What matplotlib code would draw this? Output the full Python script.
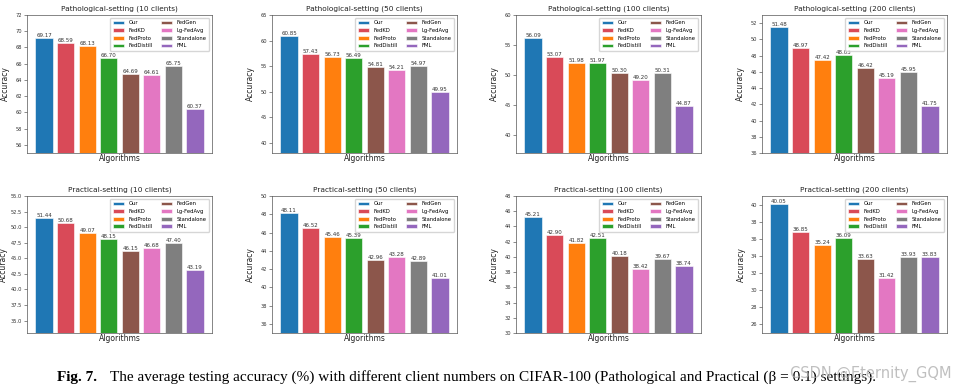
import matplotlib
matplotlib.use("Agg")
import matplotlib.pyplot as plt
import numpy as np

algorithms = ["Our", "FedKD", "FedProto", "FedDistill", "FedGen", "Lg-FedAvg", "Standalone", "FML"]
colors = ["#1f77b4", "#d94a58", "#ff7f0e", "#2ca02c", "#8c564b", "#e377c2", "#7f7f7f", "#9467bd"]

path_10 = [69.17, 68.59, 68.13, 66.70, 64.69, 64.61, 65.75, 60.37]
path_50 = [60.85, 57.43, 56.73, 56.49, 54.81, 54.21, 54.97, 49.95]
path_100 = [56.09, 53.07, 51.98, 51.97, 50.30, 49.20, 50.31, 44.87]
path_200 = [51.48, 48.97, 47.42, 48.03, 46.42, 45.19, 45.95, 41.75]
prac_10 = [51.44, 50.68, 49.07, 48.15, 46.15, 46.68, 47.40, 43.19]
prac_50 = [48.11, 46.52, 45.46, 45.39, 42.96, 43.28, 42.89, 41.01]
prac_100 = [45.21, 42.90, 41.82, 42.51, 40.18, 38.42, 39.67, 38.74]
prac_200 = [40.05, 36.85, 35.24, 36.09, 33.63, 31.42, 33.93, 33.83]

titles = ["Pathological-setting (10 clients)", "Pathological-setting (50 clients)",
          "Pathological-setting (100 clients)", "Pathological-setting (200 clients)",
          "Practical-setting (10 clients)", "Practical-setting (50 clients)",
          "Practical-setting (100 clients)", "Practical-setting (200 clients)"]
series = [path_10, path_50, path_100, path_200, prac_10, prac_50, prac_100, prac_200]
ylims = [(55, 72), (38, 65), (37, 60), (36, 53), (33, 55), (35, 50), (30, 48), (25, 41)]
ysteps = [2, 5, 5, 2, 2.5, 2, 2, 2]

W, H = 954, 388
fig = plt.figure(figsize=(W / 100, H / 100), dpi=100)
lefts = [27, 272, 516, 762]
tops = [15, 196]
bottoms = [153, 333]
aw = 185
ylabel_off = [17, 17, 17, 17, 19, 17, 17, 16]

for i, (vals, title, yl, st) in enumerate(zip(series, titles, ylims, ysteps)):
    r, c = divmod(i, 4)
    ax = fig.add_axes([lefts[c] / W, 1 - bottoms[r] / H, aw / W, (bottoms[r] - tops[r]) / H])
    x = np.arange(len(algorithms))
    bars = ax.bar(x, vals, width=0.8, color=colors, label=algorithms,
                  edgecolor="#ffffff", linewidth=0.4)
    for b, v in zip(bars, vals):
        ax.text(b.get_x() + b.get_width() / 2, v, f"{v:.2f}", ha="center", va="bottom",
                fontsize=4.0, color="#333333")
    ax.set_ylim(*yl)
    start = np.ceil(yl[0] / st) * st
    ticks = np.arange(start, yl[1] + 1e-9, st)
    ax.set_yticks(ticks)
    if st == 2.5:
        ax.set_yticklabels([f"{t:.1f}" for t in ticks])
    else:
        ax.set_yticklabels([f"{int(t)}" for t in ticks])
    ax.set_xticks([])
    ax.tick_params(axis="y", labelsize=3.7, length=2, width=0.4, pad=1.5, colors="#333333")
    for s in ax.spines.values():
        s.set_linewidth(0.5)
        s.set_color("#555555")
    ax.set_title(title, fontsize=5.3, pad=3, color="#222222")
    ax.set_xlabel("Algorithms", fontsize=5.5, labelpad=1, color="#222222")
    ax.set_ylabel("Accuracy", fontsize=5.5, color="#222222")
    ax.yaxis.set_label_coords(-ylabel_off[i] / aw, 0.5)
    ax.legend(bars, algorithms, ncol=2, loc="upper right", fontsize=3.8,
              handlelength=2.2, handleheight=0.7, columnspacing=1.5,
              borderpad=0.5, labelspacing=0.5, frameon=True, fancybox=True,
              framealpha=0.8, edgecolor="#cccccc")

fig.text(57 / W, 1 - 377 / H, "Fig. 7.", fontsize=11, family="Liberation Serif",
         fontweight="bold", va="center", ha="left")
fig.text(110 / W, 1 - 377 / H,
         "The average testing accuracy (%) with different client numbers on CIFAR-100 "
         "(Pathological and Practical (\u03b2 = 0.1) settings).",
         fontsize=11, family="Liberation Serif", va="center", ha="left")
fig.text(952 / W, 1 - 374 / H, "CSDN @Eternity_GQM", fontsize=10.5, color="#b0b0b0",
         alpha=0.8, va="center", ha="right")

fig.savefig("out.png", dpi=100)
